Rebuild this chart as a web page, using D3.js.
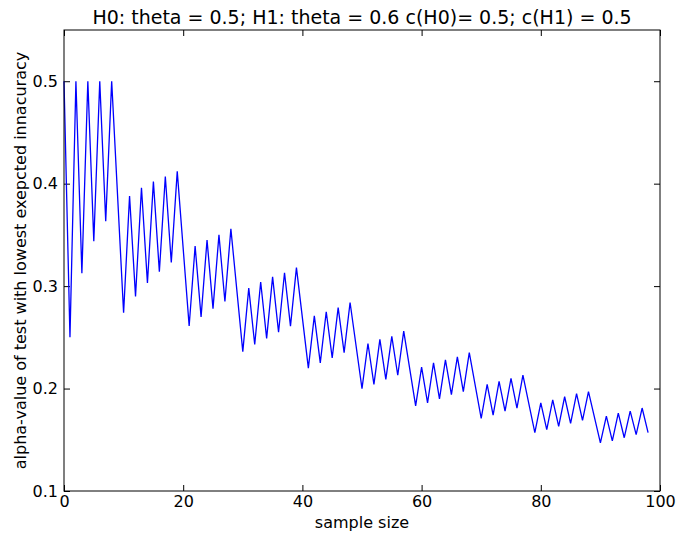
<!DOCTYPE html>
<html>
<head>
<meta charset="utf-8">
<script src="https://cdn.jsdelivr.net/npm/d3@7/dist/d3.min.js"></script>
<style>
  body { margin: 0; background: #fff; }
  text { font-family: 'DejaVu Sans', sans-serif; fill: #000; }
</style>
</head>
<body>
<div id="chart"></div>
<script>
const margin = { top: 30, right: 17, bottom: 49, left: 64 };
const WIDTH = 677 - margin.left - margin.right;
const HEIGHT = 540 - margin.top - margin.bottom;

// sample sizes (the line runs straight over 9, 20, 29, ...)
const sampleSize = [
  0, 1, 2, 3, 4, 5, 6, 7, 8,
  10, 11, 12, 13, 14, 15, 16, 17, 18, 19,
  21, 22, 23, 24, 25, 26, 27, 28,
  30, 31, 32, 33, 34, 35, 36, 37, 38, 39,
  41, 42, 43, 44, 45, 46, 47, 48,
  50, 51, 52, 53, 54, 55, 56, 57,
  59, 60, 61, 62, 63, 64, 65, 66, 67, 68,
  70, 71, 72, 73, 74, 75, 76, 77,
  79, 80, 81, 82, 83, 84, 85, 86, 87, 88,
  90, 91, 92, 93, 94, 95, 96, 97, 98
];
const alphaValue = [
  0.5, 0.25, 0.5, 0.3125, 0.5, 0.3438, 0.5, 0.3633, 0.5,
  0.274, 0.388, 0.290, 0.396, 0.303, 0.402, 0.314, 0.407, 0.323, 0.412,
  0.261, 0.339, 0.270, 0.345, 0.278, 0.350, 0.285, 0.356,
  0.236, 0.298, 0.243, 0.304, 0.249, 0.309, 0.255, 0.313, 0.261, 0.318,
  0.220, 0.271, 0.225, 0.275, 0.230, 0.279, 0.235, 0.284,
  0.200, 0.244, 0.204, 0.248, 0.209, 0.251, 0.213, 0.256,
  0.183, 0.221, 0.186, 0.225, 0.190, 0.228, 0.194, 0.231, 0.197, 0.235,
  0.171, 0.204, 0.174, 0.207, 0.178, 0.210, 0.181, 0.213,
  0.157, 0.186, 0.160, 0.189, 0.163, 0.192, 0.166, 0.195, 0.169, 0.197,
  0.147, 0.173, 0.149, 0.176, 0.152, 0.178, 0.155, 0.181, 0.157
];
const xTicks = [0, 20, 40, 60, 80, 100];
const yTicks = [0.1, 0.2, 0.3, 0.4, 0.5];

const svg = d3
  .select('#chart')
  .append('svg')
  .attr('width', 677)
  .attr('height', 540);

const plot = svg
  .append('g')
  .attr('transform', `translate(${margin.left}, ${margin.top})`);

const xScale = d3.scaleLinear().domain([0, 100]).range([0, WIDTH]);
const yScale = d3.scaleLinear().domain([0.1, 0.55]).range([HEIGHT, 0]);

// matplotlib classic: ticks inside on all four sides
const tickLen = 6;
const styleAxis = g => {
  g.select('.domain').remove();
  g.selectAll('.tick line').attr('stroke', '#000').attr('stroke-width', 1);
  g.selectAll('.tick text').style('font-size', '16px').style('font-family', 'DejaVu Sans');
};

plot
  .append('g')
  .attr('transform', `translate(0,${HEIGHT})`)
  .call(d3.axisBottom(xScale).tickValues(xTicks).tickSize(-tickLen).tickPadding(5).tickFormat(d3.format('d')))
  .call(styleAxis);

plot
  .append('g')
  .call(d3.axisTop(xScale).tickValues(xTicks).tickSize(-tickLen).tickFormat(''))
  .call(styleAxis);

plot
  .append('g')
  .call(d3.axisLeft(yScale).tickValues(yTicks).tickSize(-tickLen).tickPadding(6).tickFormat(d3.format('.1f')))
  .call(styleAxis);

plot
  .append('g')
  .attr('transform', `translate(${WIDTH},0)`)
  .call(d3.axisRight(yScale).tickValues(yTicks).tickSize(-tickLen).tickFormat(''))
  .call(styleAxis);

// the data line
const points = sampleSize.map((n, i) => ({ n: n, a: alphaValue[i] }));
const line = d3
  .line()
  .x(d => xScale(d.n))
  .y(d => yScale(d.a));

plot
  .append('path')
  .datum(points)
  .attr('fill', 'none')
  .attr('stroke', '#0000ff')
  .attr('stroke-width', 1.3)
  .attr('d', line);

// frame
plot
  .append('rect')
  .attr('width', WIDTH)
  .attr('height', HEIGHT)
  .attr('fill', 'none')
  .attr('stroke', '#000')
  .attr('stroke-width', 1);

// title
svg
  .append('text')
  .attr('x', margin.left + WIDTH / 2)
  .attr('y', 24)
  .attr('text-anchor', 'middle')
  .style('font-size', '19px')
  .text('H0: theta = 0.5; H1: theta = 0.6 c(H0)= 0.5; c(H1) = 0.5');

// x label
svg
  .append('text')
  .attr('x', margin.left + WIDTH / 2)
  .attr('y', 528)
  .attr('text-anchor', 'middle')
  .style('font-size', '16px')
  .text('sample size');

// y label
svg
  .append('text')
  .attr('transform', `translate(26, ${margin.top + HEIGHT / 2}) rotate(-90)`)
  .attr('text-anchor', 'middle')
  .style('font-size', '16px')
  .text('alpha-value of test with lowest exepcted innacuracy');
</script>
</body>
</html>
